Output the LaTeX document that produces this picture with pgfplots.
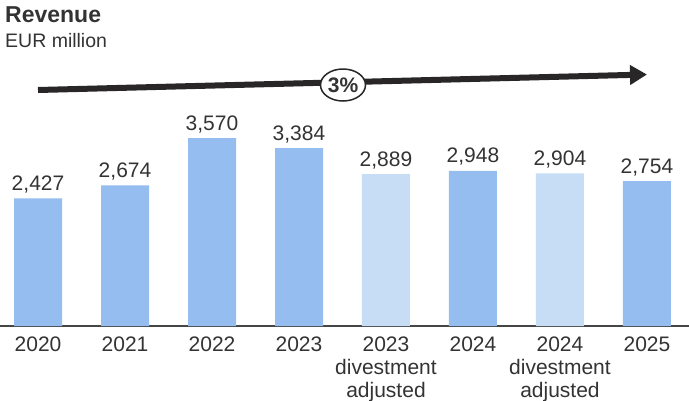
\documentclass[border=0pt]{standalone}
\usepackage{pgfplots}
\pgfplotsset{compat=1.18}
\usepackage{fontspec}
\setmainfont{Liberation Sans}
\usetikzlibrary{arrows.meta,shapes.geometric}
\definecolor{barblue}{RGB}{149,189,239}
\definecolor{barlight}{RGB}{199,220,245}
\definecolor{txt}{RGB}{51,51,51}
\definecolor{arrowc}{RGB}{40,38,38}
\definecolor{axisc}{RGB}{70,70,70}

\begin{document}
\begin{tikzpicture}[x=1pt,y=1pt]
\useasboundingbox (0pt,-400pt) rectangle (689pt,0pt);
\node[anchor=base west, inner sep=0, font=\fontsize{23}{26}\selectfont\bfseries, text=txt] at (5pt,-22pt) {Revenue};
\node[anchor=base west, inner sep=0, font=\fontsize{19.5}{22}\selectfont, text=txt] at (5pt,-47pt) {EUR million};
\begin{axis}[
    at={(0pt,-326pt)}, anchor=south west,
    scale only axis, width=689pt, height=226pt,
    xmin=-0.437, xmax=7.483, ymin=0, ymax=4297,
    axis x line*=bottom, axis y line=none,
    x axis line style={draw=axisc, line width=1.6pt, -},
    xtick={0,...,7},
    xticklabels={2020,2021,2022,2023,{2023\\divestment\\adjusted},2024,{2024\\divestment\\adjusted},2025},
    major tick length=0,
    xticklabel style={font=\fontsize{21}{22.8}\selectfont, text=txt, align=center, anchor=north, inner sep=0, yshift=-11pt},
    ytick=\empty,
    bar width=48pt,
    nodes near coords,
    /pgf/number format/.cd, 1000 sep={,}, fixed, assume math mode=true,
    /pgfplots/.cd,
    every node near coord/.append style={font=\fontsize{21}{24}\selectfont, text=txt, anchor=base, inner sep=0, yshift=8pt},
]
\addplot[ybar, bar shift=0pt, fill=barblue, draw=none] coordinates {
    (0,2427) (1,2674) (2,3570) (3,3384) (5,2948) (7,2754)
};
\addplot[ybar, bar shift=0pt, fill=barlight, draw=none] coordinates {
    (4,2889) (6,2904)
};
\end{axis}
\draw[arrowc, line width=6pt, -{Triangle[length=17pt,width=19pt]}] (38pt,-90pt) -- (647pt,-74.5pt);
\node[draw=arrowc, fill=white, ellipse, line width=1.5pt, minimum width=45pt, minimum height=32pt, inner sep=0, text=txt, font=\fontsize{21}{24}\selectfont\bfseries] at (343pt,-85pt) {3\%};
\end{tikzpicture}
\end{document}
